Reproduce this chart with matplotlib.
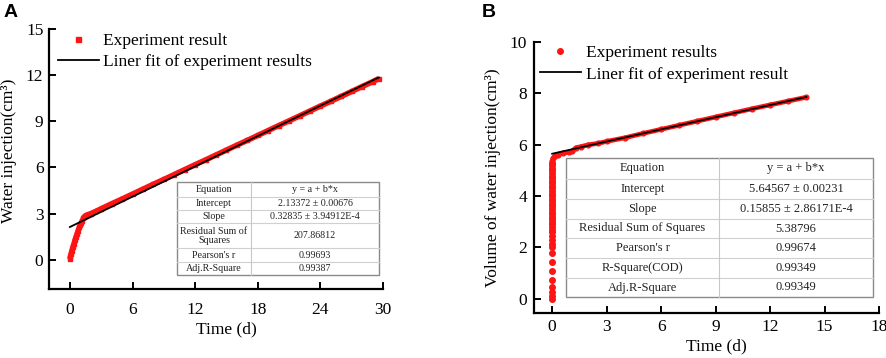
import matplotlib
matplotlib.use('Agg')
import matplotlib.pyplot as plt
from matplotlib.patches import Rectangle

plt.rcParams['font.family'] = ['Liberation Serif', 'DejaVu Serif']

# ---- Panel A: water injection vs time ----
a_time = [0.0, 0.05, 0.1, 0.2, 0.3, 0.4, 0.5, 0.6, 0.7, 0.8, 0.9, 1.0, 1.1, 1.2,
          1.3, 1.4, 1.5, 1.7, 2.0, 2.5, 3, 4, 5, 6, 7, 8, 9, 10, 11, 12, 13, 14,
          15, 16, 17, 18, 19, 20, 21, 22, 23, 24, 25, 26, 27, 28, 29, 29.6]
a_water = [0.05, 0.2, 0.35, 0.6, 0.85, 1.05, 1.3, 1.5, 1.7, 1.9, 2.1, 2.25, 2.4, 2.55,
           2.7, 2.8, 2.87, 2.93, 3.0, 3.15, 3.32, 3.64, 3.95, 4.27, 4.59, 4.91, 5.22,
           5.54, 5.86, 6.18, 6.49, 6.81, 7.13, 7.45, 7.76, 8.08, 8.40, 8.72, 9.03,
           9.35, 9.67, 9.99, 10.30, 10.62, 10.94, 11.26, 11.57, 11.78]
a_fit_time = [0.0, 29.6]
a_fit_water = [2.13, 11.85]
a_xticks = [0, 6, 12, 18, 24, 30]
a_yticks = [0, 3, 6, 9, 12, 15]
a_keys = ['Equation', 'Intercept', 'Slope', 'Residual Sum of\nSquares',
          "Pearson's r", 'Adj.R-Square']
a_vals = ['y = a + b*x', '2.13372 \u00b1 0.00676', '0.32835 \u00b1 3.94912E-4',
          '207.86812', '0.99693', '0.99387']

# ---- Panel B: volume of water injection vs time ----
b_rise_volume = [0.0, 0.1, 0.25, 0.45, 0.75, 1.1, 1.45, 1.8, 2.0, 2.15, 2.3, 2.45,
                 2.6, 2.7, 2.8, 2.9, 3.0, 3.1, 3.2, 3.3, 3.4, 3.5, 3.6, 3.7, 3.8,
                 3.9, 4.0, 4.1, 4.2, 4.3, 4.4, 4.5, 4.6, 4.7, 4.8, 4.9, 5.0, 5.1,
                 5.2, 5.3]
b_time = [0.0, 0.05, 0.15, 0.3, 0.6, 0.9, 1.1, 1.3, 1.6, 2.0, 2.5, 3, 4, 5, 6, 7,
          8, 9, 10, 11, 12, 13, 14]
b_volume = [5.38, 5.47, 5.56, 5.62, 5.68, 5.70, 5.75, 5.88, 5.93, 6.00, 6.05, 6.13,
            6.27, 6.44, 6.60, 6.76, 6.92, 7.08, 7.24, 7.40, 7.55, 7.70, 7.85]
b_fit_time = [0.0, 14.0]
b_fit_volume = [5.65, 7.86]
b_xticks = [0, 3, 6, 9, 12, 15, 18]
b_yticks = [0, 2, 4, 6, 8, 10]
b_keys = ['Equation', 'Intercept', 'Slope', 'Residual Sum of Squares',
          "Pearson's r", 'R-Square(COD)', 'Adj.R-Square']
b_vals = ['y = a + b*x', '5.64567 \u00b1 0.00231', '0.15855 \u00b1 2.86171E-4',
          '5.38796', '0.99674', '0.99349', '0.99349']

RED = '#ff1414'
W, H = 886, 358
fig = plt.figure(figsize=(W / 100, H / 100), dpi=100)
fig.patch.set_facecolor('white')


def px_axes(left, top, right, bottom):
    return fig.add_axes([left / W, 1 - bottom / H, (right - left) / W, (bottom - top) / H])


def style(ax, xpad, ypad):
    for s in ('top', 'right'):
        ax.spines[s].set_visible(False)
    for s in ('left', 'bottom'):
        ax.spines[s].set_linewidth(1.6)
    ax.tick_params(direction='in', length=5, width=1.4, labelsize=12.5)
    ax.tick_params(axis='x', pad=xpad)
    ax.tick_params(axis='y', pad=ypad)


# ── Panel A ────────────────────────────────────────────────────────────────
axA = px_axes(49, 29, 383, 289)
axA.plot(a_time, a_water, color=RED, lw=4.0, marker='s', ms=2.6,
         solid_capstyle='butt', solid_joinstyle='round', zorder=2)
axA.plot(a_fit_time, a_fit_water, color='black', lw=1.3, zorder=3)
axA.set_xlim(-2, 30)
axA.set_ylim(-1.9, 15)
axA.set_xticks(a_xticks)
axA.set_yticks(a_yticks)
style(axA, 9, 4)
axA.set_xlabel('Time (d)', fontsize=12.5)
axA.set_ylabel('Water injection(cm\u00b3)', fontsize=12.5)
axA.xaxis.set_label_coords(0.53, -0.125)
axA.yaxis.set_label_coords(-0.095, 0.53)

hA = [plt.Line2D([], [], ls='none', marker='s', ms=3.6, color=RED),
      plt.Line2D([], [], color='black', lw=1.3)]
axA.legend(hA, ['Experiment result', 'Liner fit of experiment results'],
           loc='upper left', bbox_to_anchor=(58 / W, 1 - 33 / H),
           bbox_transform=fig.transFigure, frameon=False, fontsize=12.5,
           handlelength=2.35, handletextpad=0.25, borderpad=0, borderaxespad=0,
           labelspacing=0.25)

# ── Panel B ────────────────────────────────────────────────────────────────
axB = px_axes(534, 42, 879, 313)
axB.plot([0.0] * len(b_rise_volume), b_rise_volume, ls='none', marker='o',
         ms=4, color=RED, zorder=2)
axB.plot(b_time, b_volume, color=RED, lw=3.4, marker='o', ms=3.4,
         solid_capstyle='round', zorder=2)
axB.plot(b_fit_time, b_fit_volume, color='black', lw=1.3, zorder=3)
axB.set_xlim(-1, 18)
axB.set_ylim(-0.55, 10)
axB.set_xticks(b_xticks)
axB.set_yticks(b_yticks)
style(axB, 4, 5)
axB.set_xlabel('Time (d)', fontsize=12.5)
axB.set_ylabel('Volume of water injection(cm\u00b3)', fontsize=12.5)
axB.xaxis.set_label_coords(0.528, -0.095)
axB.yaxis.set_label_coords(-0.095, 0.5)

hB = [plt.Line2D([], [], ls='none', marker='o', ms=4, color=RED),
      plt.Line2D([], [], color='black', lw=1.3)]
axB.legend(hB, ['Experiment results', 'Liner fit of experiment result'],
           loc='upper left', bbox_to_anchor=(540 / W, 1 - 45 / H),
           bbox_transform=fig.transFigure, frameon=False, fontsize=12.5,
           handlelength=2.35, handletextpad=0.3, borderpad=0, borderaxespad=0,
           labelspacing=0.3)

# ── Stats tables (drawn on a full-figure overlay in pixel units) ──────────
ov = fig.add_axes([0, 0, 1, 1])
ov.set_xlim(0, W)
ov.set_ylim(H, 0)
ov.axis('off')


def draw_table(x0, x1, xc, ys, keys, vals, fs):
    ov.add_patch(Rectangle((x0, ys[0]), x1 - x0, ys[-1] - ys[0], facecolor='white',
                           edgecolor='#8a8a8a', lw=1.0, zorder=1))
    for y in ys[1:-1]:
        ov.plot([x0, x1], [y, y], color='#d0d0d0', lw=0.8, zorder=2)
    ov.plot([xc, xc], [ys[0], ys[-1]], color='#c8c8c8', lw=0.8, zorder=2)
    for k, v, ya, yb in zip(keys, vals, ys[:-1], ys[1:]):
        ym = (ya + yb) / 2
        ov.text((x0 + xc) / 2, ym, k, ha='center', va='center', fontsize=fs,
                color='#222222', linespacing=1.0, zorder=3)
        ov.text((xc + x1) / 2, ym, v, ha='center', va='center', fontsize=fs,
                color='#222222', zorder=3)


draw_table(177, 379, 251, [182, 196.7, 210, 223.3, 248.3, 261.7, 275.3],
           a_keys, a_vals, 7.2)
draw_table(566, 873, 719, [158, 179, 199, 219, 238, 258, 278, 297],
           b_keys, b_vals, 9)

# panel letters
fig.text(4 / W, 1 - 4 / H, 'A', fontsize=14, fontweight='bold', va='top',
         family=['Liberation Sans', 'DejaVu Sans'])
fig.text(482 / W, 1 - 4 / H, 'B', fontsize=14, fontweight='bold', va='top',
         family=['Liberation Sans', 'DejaVu Sans'])

fig.savefig('out.png', dpi=100)
